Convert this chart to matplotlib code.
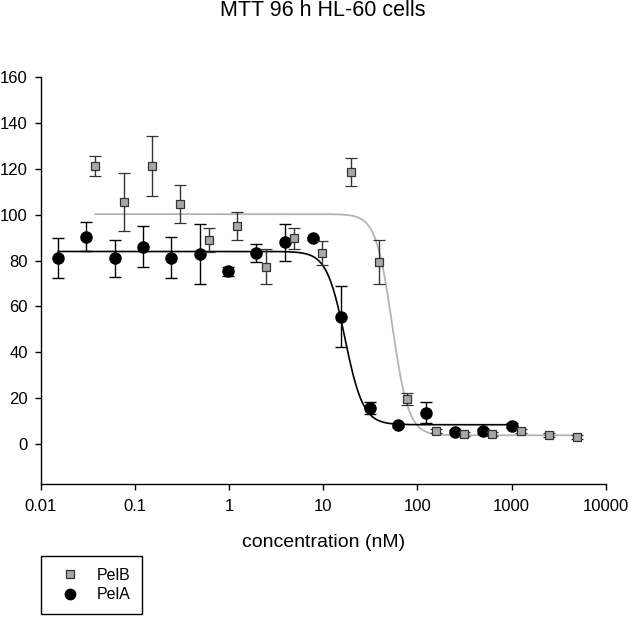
import numpy as np
import matplotlib
matplotlib.use('Agg')
import matplotlib.pyplot as plt
from matplotlib.lines import Line2D

plt.rcParams['font.family'] = ['Liberation Sans', 'DejaVu Sans']

# PelB: two-fold dilution series from 5000 nM down
pelb_conc = [0.038, 0.076, 0.153, 0.305, 0.61, 1.22, 2.44, 4.88, 9.77, 19.5,
             39, 78, 156, 312.5, 625, 1250, 2500, 5000]
pelb_mean = [121.3, 105.7, 121.4, 104.6, 88.9, 95.1, 77.4, 89.7, 83.3, 118.7,
             79.4, 19.6, 5.7, 4.4, 4.4, 5.7, 3.9, 3.1]
pelb_err = [4.3, 12.7, 13.2, 8.2, 5.2, 6.3, 7.6, 4.7, 5.4, 6.0,
            9.6, 2.7, 1.0, 1.0, 1.0, 1.0, 1.0, 1.0]

# PelA: two-fold dilution series from 1000 nM down
pela_conc = [0.0153, 0.0305, 0.061, 0.122, 0.244, 0.488, 0.977, 1.95, 3.9, 7.8,
             15.6, 31.25, 62.5, 125, 250, 500, 1000]
pela_mean = [81.3, 90.4, 81.0, 86.1, 81.3, 82.9, 75.3, 83.2, 88.1, 89.7,
             55.5, 15.8, 8.3, 13.7, 5.4, 5.7, 8.0]
pela_err = [8.7, 6.3, 8.2, 8.9, 9.0, 12.9, 1.8, 4.0, 8.1, 0.8,
            13.4, 2.6, 1.0, 4.4, 0.8, 0.8, 1.0]

# sigmoidal fit parameters (top, bottom, IC50 nM, hill slope)
pelb_fit = (100.3, 3.8, 54.0, 5.0)
pela_fit = (84.0, 8.4, 17.0, 4.5)


def sigmoid(x, top, bottom, ic50, hill):
    return bottom + (top - bottom) / (1 + (x / ic50) ** hill)


fig = plt.figure(figsize=(6.28, 6.18), dpi=100)
ax = fig.add_axes([40.7 / 628, 133.7 / 618, 565 / 628, 407 / 618])

xb = np.logspace(np.log10(pelb_conc[0]), np.log10(pelb_conc[-1]), 400)
xa = np.logspace(np.log10(pela_conc[0]), np.log10(pela_conc[-1]), 400)
ax.plot(xb, sigmoid(xb, *pelb_fit), color='#b4b4b4', lw=1.3, zorder=1)
ax.plot(xa, sigmoid(xa, *pela_fit), color='black', lw=1.2, zorder=2)

ax.errorbar(pela_conc, pela_mean, yerr=pela_err, fmt='o', color='black',
            ms=8, mfc='black', mec='black', ecolor='black', elinewidth=1.0,
            capsize=4.5, capthick=1.0, zorder=3)
ax.errorbar(pelb_conc, pelb_mean, yerr=pelb_err, fmt='s', ms=6.3,
            mfc='#a8a8a8', mec='#333333', mew=0.9, ecolor='#333333',
            elinewidth=1.0, capsize=4.5, capthick=1.0, zorder=4)

ax.set_xscale('log')
ax.set_xlim(0.01, 10000)
ax.set_ylim(-17.6, 160)
ax.set_yticks(np.arange(0, 161, 20))
ax.set_xticks([0.01, 0.1, 1, 10, 100, 1000, 10000])
ax.set_xticklabels(['0.01', '0.1', '1', '10', '100', '1000', '10000'])
ax.xaxis.set_minor_locator(matplotlib.ticker.NullLocator())
for s in ['top', 'right']:
    ax.spines[s].set_visible(False)
for s in ['left', 'bottom']:
    ax.spines[s].set_linewidth(1.0)
ax.tick_params(axis='both', width=1.0, length=4.3, labelsize=12)
ax.tick_params(axis='x', pad=6)
ax.tick_params(axis='y', pad=5)
ax.set_xlabel('concentration (nM)', fontsize=14, labelpad=15)

fig.text(323 / 628, 1 - 16 / 618, 'MTT 96 h HL-60 cells', ha='center',
         va='baseline', fontsize=15.5)

hb = Line2D([], [], ls='none', marker='s', ms=6, mfc='#a8a8a8', mec='#333333', mew=0.9)
ha = Line2D([], [], ls='none', marker='o', ms=7.5, mfc='black', mec='black')
leg = fig.legend([hb, ha], ['PelB', 'PelA'], loc='upper left',
                 bbox_to_anchor=(40.7 / 628, 1 - 556 / 618), borderaxespad=0,
                 fontsize=11.5, handlelength=2.2, handletextpad=0.58,
                 borderpad=0.73, labelspacing=0.28, fancybox=False,
                 edgecolor='black', framealpha=1)
leg.get_frame().set_linewidth(1.0)

fig.savefig('out.png', dpi=100)
